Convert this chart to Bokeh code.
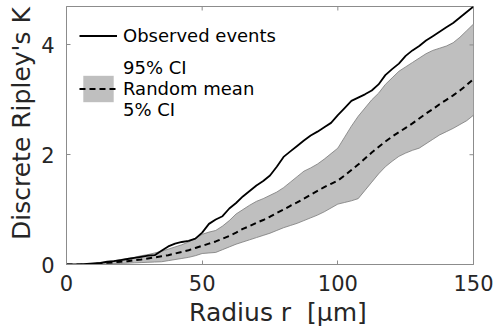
import math
from bokeh.plotting import figure
from bokeh.models import Range1d, FixedTicker, Legend, LegendItem
from bokeh.embed import file_html
from bokeh.resources import INLINE

# ---- data ----
radius = [0, 2.5, 5, 7.5, 10, 12.5, 15, 17.5, 20, 22.5, 25, 27.5, 30, 32.5, 35, 37.5,
          40, 42.5, 45, 47.5, 50, 52.5, 55, 57.5, 60, 62.5, 65, 67.5, 70, 72.5, 75, 77.5,
          80, 82.5, 85, 87.5, 90, 92.5, 95, 97.5, 100, 102.5, 105, 107.5, 110, 112.5, 115,
          117.5, 120, 122.5, 125, 127.5, 130, 132.5, 135, 137.5, 140, 142.5, 145, 147.5, 150]

observed = [0, 0, 0, 0.01, 0.02, 0.03, 0.05, 0.06, 0.08, 0.10, 0.12, 0.14, 0.16, 0.17, 0.25, 0.33,
            0.38, 0.41, 0.43, 0.47, 0.58, 0.74, 0.82, 0.88, 1.02, 1.12, 1.24, 1.34, 1.44, 1.52, 1.62, 1.78,
            1.96, 2.06, 2.16, 2.26, 2.35, 2.42, 2.50, 2.58, 2.72, 2.85, 2.98, 3.04, 3.10, 3.17, 3.28,
            3.45, 3.56, 3.66, 3.80, 3.90, 3.98, 4.08, 4.16, 4.24, 4.32, 4.40, 4.50, 4.60, 4.70]

random_mean = [0, 0, 0, 0.005, 0.01, 0.02, 0.03, 0.04, 0.05, 0.06, 0.08, 0.09, 0.11, 0.13, 0.15, 0.17,
               0.20, 0.23, 0.26, 0.30, 0.34, 0.38, 0.42, 0.47, 0.52, 0.58, 0.65, 0.70, 0.76, 0.81, 0.87, 0.94,
               1.00, 1.07, 1.13, 1.20, 1.27, 1.34, 1.41, 1.47, 1.53, 1.62, 1.72, 1.82, 1.93, 2.04, 2.14,
               2.24, 2.33, 2.41, 2.49, 2.57, 2.66, 2.75, 2.83, 2.92, 3.00, 3.08, 3.17, 3.27, 3.38]

ci_95 = [0, 0, 0.005, 0.01, 0.02, 0.03, 0.05, 0.07, 0.09, 0.11, 0.13, 0.16, 0.18, 0.21, 0.24, 0.28,
         0.32, 0.36, 0.41, 0.48, 0.55, 0.59, 0.62, 0.70, 0.80, 0.92, 1.00, 1.08, 1.15, 1.20, 1.26, 1.32,
         1.40, 1.50, 1.60, 1.70, 1.76, 1.83, 1.92, 2.02, 2.12, 2.32, 2.52, 2.70, 2.85, 3.00, 3.12,
         3.28, 3.40, 3.52, 3.60, 3.68, 3.76, 3.84, 3.90, 3.94, 3.98, 4.04, 4.14, 4.26, 4.38]

ci_5 = [0, 0, 0, 0, 0, 0.005, 0.01, 0.015, 0.02, 0.025, 0.03, 0.035, 0.04, 0.045, 0.05, 0.07,
        0.09, 0.11, 0.13, 0.16, 0.20, 0.21, 0.22, 0.27, 0.32, 0.37, 0.41, 0.45, 0.49, 0.53, 0.57, 0.62,
        0.67, 0.71, 0.75, 0.80, 0.85, 0.90, 0.96, 1.03, 1.10, 1.13, 1.16, 1.20, 1.35, 1.50, 1.65,
        1.78, 1.88, 1.97, 2.03, 2.08, 2.12, 2.20, 2.28, 2.36, 2.42, 2.48, 2.55, 2.62, 2.72]

x_ticks = [0, 50, 100, 150]
y_ticks = [0, 2, 4]
x_lim = (0, 150)
y_lim = (0, 4.7)

FONT = "DejaVu Sans"
TXT = "#262626"
AX = "#8c8c8c"
NB = "\u00a0"

p = figure(width=500, height=332, output_backend="svg", toolbar_location=None,
           x_range=Range1d(*x_lim), y_range=Range1d(*y_lim),
           min_border_left=66, min_border_right=27, min_border_top=6, min_border_bottom=68)
p.grid.visible = False
p.outline_line_color = AX
p.background_fill_color = "white"
p.border_fill_color = "white"

band = p.varea(x=radius, y1=ci_5, y2=ci_95, fill_color="#bfbfbf")
p.line(radius, ci_95, line_color="#7a7a7a", line_width=0.8)
p.line(radius, ci_5, line_color="#7a7a7a", line_width=0.8)
mean_r = p.line(radius, random_mean, line_color="black", line_width=2, line_dash="6 4")
obs_r = p.line(radius, observed, line_color="black", line_width=1.8)

# inward tick marks on the top and right edges of the box (clipped to the frame)
p.scatter(x=x_ticks, y=[y_lim[1]] * len(x_ticks), marker="dash", size=8,
          angle=math.pi / 2, line_color=AX, line_width=1)
p.scatter(x=[x_lim[1]] * len(y_ticks), y=y_ticks, marker="dash", size=8,
          line_color=AX, line_width=1)

for ax, ticks in ((p.xaxis[0], x_ticks), (p.yaxis[0], y_ticks)):
    ax.ticker = FixedTicker(ticks=ticks)
    ax.major_tick_in = 4
    ax.major_tick_out = 0
    ax.minor_tick_line_color = None
    ax.axis_line_color = AX
    ax.major_tick_line_color = AX
    ax.major_label_text_font = FONT
    ax.major_label_text_font_size = "21px"
    ax.major_label_text_color = TXT
    ax.axis_label_text_font = FONT
    ax.axis_label_text_font_size = "25px"
    ax.axis_label_text_font_style = "normal"
    ax.axis_label_text_color = TXT

p.xaxis.axis_label = NB * 2 + "Radius r" + NB + " [\u00b5m]"
p.yaxis.axis_label = NB * 3 + "Discrete Ripley's K"
p.xaxis.major_label_standoff = 10
p.yaxis.major_label_standoff = 12
p.xaxis.axis_label_standoff = 4
p.yaxis.axis_label_standoff = 2

legend = Legend(items=[LegendItem(label="Observed events", renderers=[obs_r]),
                       LegendItem(label="95% CI\nRandom mean\n5% CI", renderers=[band, mean_r])],
                location="top_left", margin=13, padding=0, spacing=5,
                border_line_color=None, background_fill_alpha=0,
                glyph_width=38, glyph_height=33, label_standoff=6,
                label_text_font=FONT, label_text_font_size="18px", label_text_color="black")
p.add_layout(legend)

open("out.html", "w").write(file_html(p, INLINE))
